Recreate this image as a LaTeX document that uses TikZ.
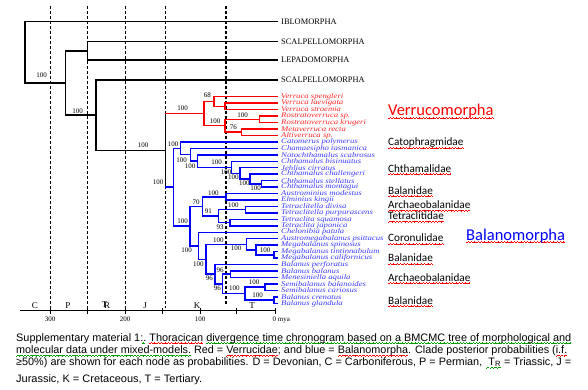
\documentclass[tikz,border=0pt]{standalone}
\usepackage{fontspec}
\setmainfont{Liberation Serif}
\newfontfamily\capfont{Liberation Sans}
\newfontfamily\famfont{Carlito}
\usepackage{graphicx}
\definecolor{sqgreen}{RGB}{0,160,0}
\definecolor{bltxt}{RGB}{60,60,255}
\definecolor{rdtxt}{RGB}{255,40,40}
\newsavebox\rwbox
\newsavebox\gwbox
\newcommand\wv[2]{\setbox0\hbox{#2}\leavevmode\rlap{\raisebox{-3pt}{\hbox to\wd0{\xleaders\copy#1\hfil}}}\box0\relax}
\newcommand\rwave[1]{\wv\rwbox{#1}}
\newcommand\gwave[1]{\wv\gwbox{#1}}
\newcommand\cl[6]{\draw[#1] (#2 |- #3) -- (#2 |- #4); \draw[#5] (#2 |- #3) -- (#3); \draw[#6] (#2 |- #4) -- (#4);}
\begin{document}
\sbox\rwbox{\color{red}\rule{0.8pt}{0.55pt}\rule[0.5pt]{0.8pt}{0.55pt}\rule[1pt]{0.8pt}{0.55pt}\rule[0.5pt]{0.8pt}{0.55pt}}%
\sbox\gwbox{\color{sqgreen}\rule{0.8pt}{0.55pt}\rule[0.5pt]{0.8pt}{0.55pt}\rule[1pt]{0.8pt}{0.55pt}\rule[0.5pt]{0.8pt}{0.55pt}}%
\begin{tikzpicture}[x=1pt,y=-1pt,
 blk/.style={line width=1.5pt,black,line cap=rect},
 rd/.style={line width=1.5pt,red,line cap=rect},
 bl/.style={line width=1.5pt,blue,line cap=rect},
 dsh/.style={line width=0.9pt,dash pattern=on 3pt off 2pt},
 lab/.style={font=\fontsize{7}{7}\selectfont, inner sep=0pt},
 spec/.style={font=\fontsize{8.7}{9}\selectfont\itshape, inner sep=0pt, anchor=west},
 toplab/.style={font=\fontsize{8.4}{9}\selectfont, inner sep=0pt, anchor=west},
 fam/.style={font=\famfont\fontsize{11.2}{12}\selectfont, inner sep=0pt, anchor=base west},
 bigl/.style={font=\famfont\fontsize{16.5}{17}\selectfont, inner sep=0pt, anchor=base west},
 capt/.style={font=\capfont\fontsize{10.8}{12}\selectfont, inner sep=0pt, anchor=base west},
 per/.style={font=\fontsize{9}{9}\selectfont, inner sep=0pt, anchor=base},
 tick/.style={font=\fontsize{7}{7}\selectfont, inner sep=0pt, anchor=base},
]
\fill[white] (0,0) rectangle (588,390);
\useasboundingbox (0,0) rectangle (588,390);

% dashed period lines
\foreach \x in {50,87,125,165.7} \draw[dsh] (\x,6) -- (\x,308);
\draw[dsh,line width=1.2pt] (226,6) -- (226,305);

% axis
\draw[line width=0.9pt] (20,310) -- (275,310);
\foreach \x in {50,87,125,162,200,236,275} \draw[line width=0.9pt] (\x,308) -- (\x,314);
\node[tick] (a300) at (50,321.5) {300};
\node[tick] (a200) at (125,321.5) {200};
\node[tick] (a100) at (200,321.5) {100};
\node[tick,anchor=base west] (a0) at (272.5,321.5) {0 mya};
\node[per] (pC) at (35,308.5) {C};
\node[per] (pP) at (68,308.5) {P};
\node[per] (pT) at (106,308.5) {\raisebox{1pt}{T}\kern-3pt R};
\node[per] (pJ) at (145,308.5) {J};
\node[per] (pK) at (197,308.5) {K};
\node[per] (pTe) at (252,308.5) {T};

% top leaves
\coordinate (lI) at (277,21.7);
\coordinate (lS1) at (277,41.7);
\coordinate (lL) at (277,60);
\coordinate (lS2) at (277,80);
\node[toplab] (tI) at (281,21.7) {IBLOMORPHA};
\node[toplab] (tS1) at (281,41.7) {SCALPELLOMORPHA};
\node[toplab] (tL) at (281,60) {LEPADOMORPHA};
\node[toplab] (tS2) at (281,80) {SCALPELLOMORPHA};

% species leaves
\foreach \n [count=\i] in {Verruca spengleri,Verruca laevigata,Verruca stroemia,Rostratoverruca sp.,Rostratoverruca krugeri,Metaverruca recta,Altiverruca sp.,Catomerus polymerus,Chamaesipho tasmanica,Notochthamalus scabrosus,Chthamalus bisinuatus,Jehlius cirratus,Chthamalus challengeri,Chthamalus stellatus,Chthamalus montagui,Austrominius modestus,Elminius kingii,Tetraclitella divisa,Tetraclitella purpurascens,Tetraclita squamosa,Tetraclita japonica,Chelonibia patula,Austromegabalanus psittacus,Megabalanus spinosus,Megabalanus tintinnabulum,Megabalanus californicus,Balanus perforatus,Balanus balanus,Menesiniella aquila,Semibalanus balanoides,Semibalanus cariosus,Balanus crenatus,Balanus glandula}{
  \pgfmathsetmacro\yy{96.7+(\i-1)*6.456}
  \ifnum\i<8 \def\col{rdtxt}\else\def\col{bltxt}\fi
  \coordinate (l\i) at (277,\yy);
  \node[spec,text=\col] (sp\i) at (281,\yy) {\scalebox{1}[0.82]{\n}};
}

% internal nodes
\coordinate (r23) at (225,106.39);
\coordinate (r1) at (214,101.55);
\coordinate (r45) at (259.3,119.30);
\coordinate (r67) at (241.7,132.21);
\coordinate (rB) at (225,125.75);
\coordinate (rR) at (204,113.65);
\coordinate (ch4) at (261.7,183.86);
\coordinate (ch3) at (250,179.01);
\coordinate (ch2) at (240,173.37);
\coordinate (ch1) at (231.7,167.31);
\coordinate (chN) at (197.3,161.06);
\coordinate (chC) at (190.7,154.70);
\coordinate (chT) at (180.7,148.30);
\coordinate (tt1) at (226,196.77);
\coordinate (tt2) at (245.7,209.68);
\coordinate (tt3) at (230,222.59);
\coordinate (tt23) at (218.3,216.14);
\coordinate (ttT) at (202.7,206.45);
\coordinate (mm4) at (274,254.87);
\coordinate (mm3) at (256,250.03);
\coordinate (mm2) at (246.7,244.38);
\coordinate (sb2) at (265,287.15);
\coordinate (sb3) at (274,300.06);
\coordinate (sb1) at (245,293.61);
\coordinate (bb1) at (230.7,274.24);
\coordinate (bb2) at (222.7,283.92);
\coordinate (bb3) at (215,274.24);
\coordinate (bb4) at (206,259.31);
\coordinate (bb5) at (198.3,245.80);
\coordinate (bbB) at (190,226.12);
\coordinate (bR) at (173.3,187.21);
\coordinate (th) at (165.7,150.43);
\coordinate (n96) at (96,115.2);
\coordinate (SL) at (87.3,50.85);
\coordinate (n65) at (65.7,83.0);
\coordinate (root) at (25,52.4);

% black backbone
\cl{blk}{root}{lI}{n65}{blk}{blk}
\cl{blk}{n65}{SL}{n96}{blk}{blk}
\cl{blk}{SL}{lS1}{lL}{blk}{blk}
\cl{blk}{n96}{lS2}{th}{blk}{blk}
\cl{blk}{th}{rR}{bR}{rd}{bl}
% red clade
\cl{rd}{rR}{r1}{rB}{rd}{rd}
\cl{rd}{r1}{l1}{r23}{rd}{rd}
\cl{rd}{r23}{l2}{l3}{rd}{rd}
\cl{rd}{rB}{r45}{r67}{rd}{rd}
\cl{rd}{r45}{l4}{l5}{rd}{rd}
\cl{rd}{r67}{l6}{l7}{rd}{rd}
% blue clade
\cl{bl}{bR}{chT}{bbB}{bl}{bl}
\cl{bl}{chT}{l8}{chC}{bl}{bl}
\cl{bl}{chC}{l9}{chN}{bl}{bl}
\cl{bl}{chN}{l10}{ch1}{bl}{bl}
\cl{bl}{ch1}{l11}{ch2}{bl}{bl}
\cl{bl}{ch2}{l12}{ch3}{bl}{bl}
\cl{bl}{ch3}{l13}{ch4}{bl}{bl}
\cl{bl}{ch4}{l14}{l15}{bl}{bl}
\cl{bl}{bbB}{ttT}{bb5}{bl}{bl}
\cl{bl}{ttT}{tt1}{tt23}{bl}{bl}
\cl{bl}{tt1}{l16}{l17}{bl}{bl}
\cl{bl}{tt23}{tt2}{tt3}{bl}{bl}
\cl{bl}{tt2}{l18}{l19}{bl}{bl}
\cl{bl}{tt3}{l20}{l21}{bl}{bl}
\cl{bl}{bb5}{l22}{bb4}{bl}{bl}
\cl{bl}{bb4}{mm2}{bb3}{bl}{bl}
\cl{bl}{mm2}{l23}{mm3}{bl}{bl}
\cl{bl}{mm3}{l24}{mm4}{bl}{bl}
\cl{bl}{mm4}{l25}{l26}{bl}{bl}
\cl{bl}{bb3}{l27}{bb2}{bl}{bl}
\cl{bl}{bb2}{bb1}{sb1}{bl}{bl}
\cl{bl}{bb1}{l28}{l29}{bl}{bl}
\cl{bl}{sb1}{sb2}{sb3}{bl}{bl}
\cl{bl}{sb2}{l30}{l31}{bl}{bl}
\cl{bl}{sb3}{l32}{l33}{bl}{bl}

% support values
\foreach \x/\y/\t [count=\k] in {41.7/75.3/100,77.7/111/100,143/145/100,158/182/100,
  207.3/95.7/68,182.7/108.7/100,242.7/115/100,215/121.7/100,233.3/127.7/76,
  173/144/100,181.7/160/100,190/166.7/100,216.7/162.7/100,226/172.3/100,233.3/177.7/100,244.3/183.3/100,255.7/188.3/100,
  213.3/193.3/100,196/202.3/70,208.3/211.7/91,233.3/205.7/100,220/227.3/93,182.7/221/100,
  186.7/250/100,198.3/264/100,218.3/240/100,236/248.3/100,265/250/100,
  220/270.7/96,209.3/278.3/96,217.3/288.3/96,234.3/288.3/100,254/282.7/100,257.7/295/100}
  \node[lab] (pp\k) at (\x,\y) {\t};

% group labels
\node[bigl,text=red] (gV) at (388,116) {\rwave{Verrucomorpha}};
\node[bigl,text=blue] (gB) at (466,240) {\rwave{Balanomorpha}};
\node[fam] (f1) at (388,145.7) {\rwave{Catophragmidae}};
\node[fam] (f2) at (388,172) {\rwave{Chthamalidae}};
\node[fam] (f3) at (388,194) {\rwave{Balanidae}};
\node[fam] (f4) at (388,208.3) {\rwave{Archaeobalanidae}};
\node[fam] (f5) at (388,219.3) {\rwave{Tetraclitidae}};
\node[fam] (f6) at (388,241.7) {\rwave{Coronulidae}};
\node[fam] (f7) at (388,261.7) {\rwave{Balanidae}};
\node[fam] (f8) at (388,281) {\rwave{Archaeobalanidae}};
\node[fam] (f9) at (388,304) {\rwave{Balanidae}};

% caption
\node[capt] (cap1) at (16,341) {\resizebox{555pt}{\height}{Supplementary material 1\gwave{:.} \rwave{Thoracican} \gwave{divergence time chronogram based on a BMCMC tree of morphological and}}};
\node[capt] (cap2) at (16,353.3) {\resizebox{551pt}{\height}{\gwave{molecular data under mixed-models.} Red = \rwave{Verrucidae}\gwave{;} and blue = \rwave{Balanomorpha}. Clade posterior probabilities (\rwave{i.f.}}};
\node[capt] (cap3) at (16,365.3) {\resizebox{555pt}{\height}{≥50\%) are shown for each node as probabilities. D = Devonian, C = Carboniferous, P = Permian, \gwave{\ T\textsubscript{R}}\ = Triassic, J =}};
\node[capt] (cap4) at (16,382) {\resizebox{186pt}{\height}{Jurassic, K = Cretaceous, T = Tertiary.}};
\end{tikzpicture}
\end{document}
